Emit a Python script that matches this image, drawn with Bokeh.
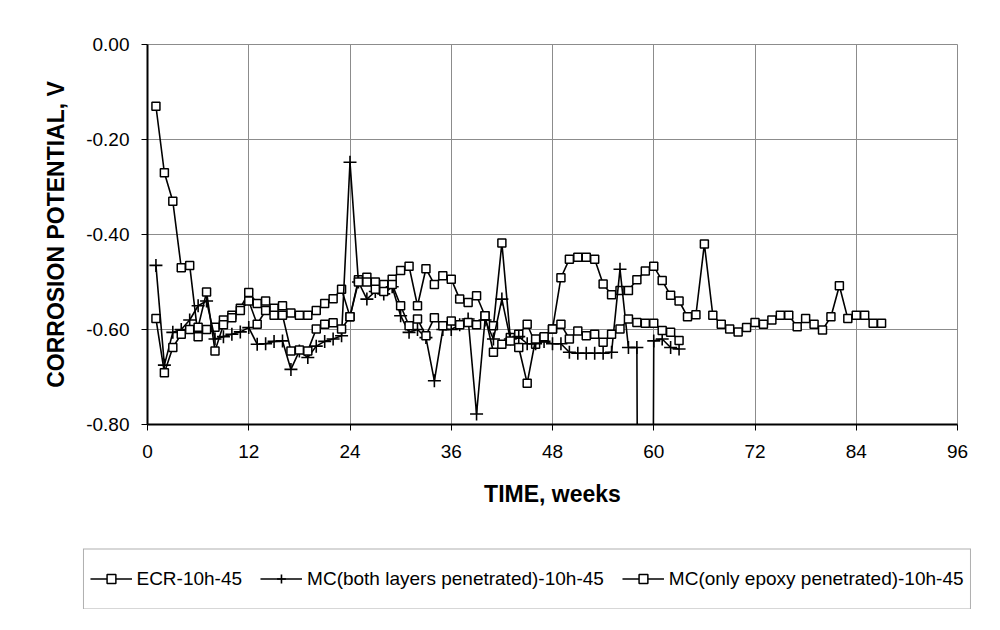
from bokeh.plotting import figure
from bokeh.models import Range1d, FixedTicker, NumeralTickFormatter, Legend, LegendItem
from bokeh.embed import file_html
from bokeh.resources import INLINE

# ---------------- data ----------------
weeks_ecr = list(range(1, 88))
ecr = [-0.13, -0.27, -0.33, -0.47, -0.465, -0.615, -0.60, -0.595, -0.58, -0.57,
       -0.555, -0.522, -0.545, -0.54, -0.555, -0.55, -0.565, -0.57, -0.57, -0.56,
       -0.545, -0.535, -0.515, -0.573, -0.495, -0.49, -0.50, -0.505, -0.494, -0.476,
       -0.467, -0.55, -0.472, -0.505, -0.487, -0.494, -0.536, -0.543, -0.529, -0.571,
       -0.592, -0.418, -0.617, -0.61, -0.589, -0.631, -0.617, -0.599, -0.491, -0.452,
       -0.448, -0.448, -0.452, -0.504, -0.527, -0.518, -0.518, -0.495, -0.477, -0.467,
       -0.497, -0.528, -0.540, -0.573, -0.569, -0.420, -0.570, -0.589, -0.599, -0.605,
       -0.596, -0.585, -0.589, -0.580, -0.570, -0.570, -0.594, -0.577, -0.589, -0.601,
       -0.573, -0.508, -0.577, -0.570, -0.570, -0.587, -0.587]

weeks_both = list(range(1, 64))
mc_both = [-0.465, -0.675, -0.606, -0.60, -0.58, -0.55, -0.54, -0.62, -0.615, -0.61,
           -0.605, -0.596, -0.631, -0.63, -0.625, -0.624, -0.684, -0.645, -0.659, -0.635,
           -0.625, -0.62, -0.613, -0.248, -0.50, -0.536, -0.52, -0.525, -0.51, -0.571,
           -0.606, -0.60, -0.617, -0.708, -0.60, -0.60, -0.59, -0.578, -0.778, -0.58,
           -0.62, -0.536, -0.62, -0.615, -0.63, -0.63, -0.625, -0.63, -0.63, -0.648,
           -0.650, -0.650, -0.650, -0.650, -0.648, -0.473, -0.638, -0.638, -5.0, -0.624,
           -0.620, -0.638, -0.641]

weeks_epoxy = list(range(1, 64))
mc_epoxy = [-0.577, -0.691, -0.638, -0.61, -0.60, -0.595, -0.521, -0.645, -0.59, -0.575,
            -0.56, -0.54, -0.589, -0.56, -0.57, -0.57, -0.645, -0.643, -0.645, -0.599,
            -0.589, -0.586, -0.599, -0.573, -0.50, -0.50, -0.515, -0.52, -0.505, -0.55,
            -0.592, -0.578, -0.613, -0.575, -0.592, -0.582, -0.59, -0.585, -0.59, -0.571,
            -0.648, -0.631, -0.624, -0.638, -0.713, -0.62, -0.615, -0.599, -0.589, -0.620,
            -0.603, -0.613, -0.610, -0.627, -0.610, -0.599, -0.578, -0.585, -0.587, -0.587,
            -0.602, -0.606, -0.623]

labels = ["ECR-10h-45", "MC(both layers penetrated)-10h-45", "MC(only epoxy penetrated)-10h-45"]
x_ticks = [0, 12, 24, 36, 48, 60, 72, 84, 96]
y_ticks = [0.0, -0.2, -0.4, -0.6, -0.8]

FONT = "Liberation Sans"
LINE = dict(line_color="black", line_width=1.6)
SQUARE = dict(marker="square", size=8, fill_color="white", line_color="black", line_width=1.5)
CROSS = dict(marker="cross", size=13, line_color="black", line_width=1.6)

# ---------------- main chart ----------------
p = figure(width=984, height=548, output_backend="svg", toolbar_location=None,
           x_range=Range1d(0, 96), y_range=Range1d(-0.8, 0.0),
           min_border_left=147, min_border_right=27, min_border_top=44, min_border_bottom=124)

p.background_fill_color = "white"
p.border_fill_color = "white"
p.outline_line_color = "#8c8c8c"
p.outline_line_width = 1

p.xgrid.ticker = FixedTicker(ticks=x_ticks)
p.ygrid.ticker = FixedTicker(ticks=y_ticks)
for g in (p.xgrid, p.ygrid):
    g.grid_line_color = "#8c8c8c"
    g.grid_line_width = 1

p.xaxis.ticker = FixedTicker(ticks=x_ticks)
p.yaxis.ticker = FixedTicker(ticks=y_ticks)
p.yaxis.formatter = NumeralTickFormatter(format="0.00")
for ax in (p.xaxis, p.yaxis):
    ax.axis_line_color = "black"
    ax.axis_line_width = 2
    ax.major_tick_line_color = "black"
    ax.major_tick_line_width = 1
    ax.major_tick_out = 6
    ax.major_tick_in = 0
    ax.minor_tick_line_color = None
    ax.major_label_text_font = FONT
    ax.major_label_text_font_size = "19px"
    ax.major_label_text_color = "black"
    ax.axis_label_text_font = FONT
    ax.axis_label_text_font_style = "bold"
    ax.axis_label_text_font_size = "23px"
    ax.axis_label_text_color = "black"

p.xaxis.axis_label = "TIME, weeks"
p.yaxis.axis_label = "CORROSION POTENTIAL, V"
p.xaxis.major_label_standoff = 14
p.yaxis.major_label_standoff = 12
p.xaxis.axis_label_standoff = 20
p.yaxis.axis_label_standoff = 14

p.line(weeks_ecr, ecr, **LINE)
p.scatter(weeks_ecr, ecr, **SQUARE)
p.line(weeks_both, mc_both, **LINE)
p.scatter(weeks_both, mc_both, **CROSS)
p.line(weeks_epoxy, mc_epoxy, **LINE)
p.scatter(weeks_epoxy, mc_epoxy, **SQUARE)

# ---------------- legend strip below the chart ----------------
q = figure(width=984, height=66, output_backend="svg", toolbar_location=None,
           x_range=Range1d(0, 1), y_range=Range1d(0, 1),
           min_border_left=75, min_border_right=6, min_border_top=0, min_border_bottom=5)
q.axis.visible = False
q.grid.visible = False
q.outline_line_color = None
q.background_fill_color = "white"
q.border_fill_color = "white"

k1 = q.line(weeks_ecr, ecr, visible=False, **LINE)
m1 = q.scatter(weeks_ecr, ecr, visible=False, **SQUARE)
k2 = q.line(weeks_both, mc_both, visible=False, **LINE)
m2 = q.scatter(weeks_both, mc_both, visible=False, **CROSS)
k3 = q.line(weeks_epoxy, mc_epoxy, visible=False, **LINE)
m3 = q.scatter(weeks_epoxy, mc_epoxy, visible=False, **SQUARE)

legend = Legend(items=[LegendItem(label=labels[0], renderers=[k1, m1]),
                       LegendItem(label=labels[1], renderers=[k2, m2]),
                       LegendItem(label=labels[2], renderers=[k3, m3])],
                orientation="horizontal", location="center",
                glyph_width=42, glyph_height=22, label_height=47,
                label_standoff=5, spacing=18, padding=6, margin=0,
                label_text_font=FONT, label_text_font_size="19px",
                label_text_color="black",
                inactive_fill_alpha=0.0,
                border_line_color="#606060", border_line_width=1,
                background_fill_color="white", background_fill_alpha=1.0)
q.add_layout(legend, "center")

open("out.html", "w").write(file_html([p, q], INLINE))
